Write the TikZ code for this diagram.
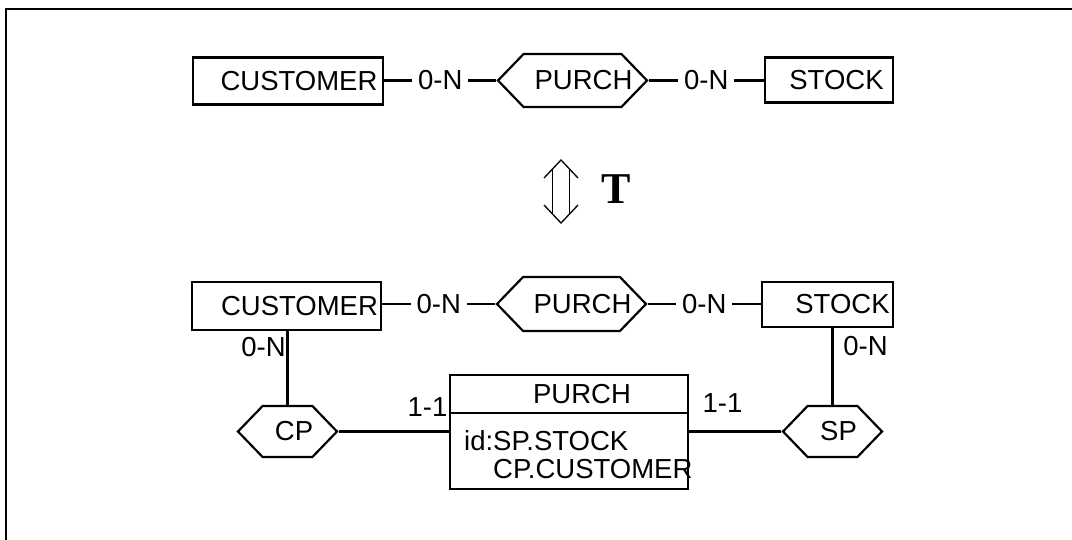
\documentclass[tikz,border=0pt]{standalone}
\usepackage{fontspec}
\setmainfont{Liberation Sans}
\newfontfamily\trfont{Liberation Serif}
\usetikzlibrary{shapes.symbols}

\tikzset{
  every node/.style={font=\fontsize{27.5}{28}\selectfont},
  ent/.style={draw, line width=2.2pt, inner sep=0pt, minimum height=47pt},
  rel/.style={draw, line width=2.2pt, inner sep=0pt, shape=signal,
    signal to=east and west, signal pointer angle=92},
  link/.style={line width=2.2pt},
  card/.style={fill=white, inner sep=0pt, minimum width=56pt, minimum height=30pt},
  lbl/.style={inner sep=0pt},
}
% centred text, nudged to the right, that does not widen its shape
\newcommand\nudged[2]{\makebox[0pt][c]{\hspace*{#1}#2}}

\begin{document}
\begin{tikzpicture}[x=1pt, y=-1pt]
\useasboundingbox (0,0) rectangle (1072,539);

% open frame (top and left edges)
\draw[line width=2pt] (6,545) -- (6,9) -- (1080,9);

% ---------- original schema ----------
\node[ent, minimum width=190pt] (cust1) at (288,81) {\nudged{22pt}{CUSTOMER}};
\node[rel, minimum width=149pt, minimum height=53pt] (purch1) at (572.5,80.5) {\nudged{22pt}{PURCH}};
\node[ent, minimum width=128pt, minimum height=45pt] (stock1) at (829,80) {\nudged{15pt}{STOCK}};

\draw[link] (cust1.east |- purch1.west) -- node[card] {0-N} (purch1.west);
\draw[link] (purch1.east) -- node[card] {0-N} (stock1.west |- purch1.east);

% ---------- transformation symbol ----------
\coordinate (tup) at (561,160);
\coordinate (tdn) at (561,223);
\draw[line width=1.3pt] (544,178) -- (tup) -- (578,178);
\draw[line width=1.3pt] (544,205) -- (tdn) -- (578,205);
\draw[line width=1.3pt] (552.5,169) -- (552.5,214);
\draw[line width=1.3pt] (569.5,169) -- (569.5,214);
\node[lbl, font=\trfont\bfseries\fontsize{44}{44}\selectfont] (tname) at (616,189.5) {T};

% ---------- transformed schema ----------
\node[ent, minimum width=189pt, minimum height=48pt] (cust2) at (286.5,306) {\nudged{26pt}{CUSTOMER}};
\node[rel, minimum width=149pt, minimum height=54pt] (purch2) at (571.5,304) {\nudged{22pt}{PURCH}};
\node[ent, minimum width=131pt, minimum height=45pt] (stock2) at (827.5,304.5) {\nudged{30pt}{STOCK}};

\draw[link] (cust2.east |- purch2.west) -- node[card] {0-N} (purch2.west);
\draw[link] (purch2.east) -- node[card] {0-N} (stock2.west |- purch2.east);

% relationship types CP and SP
\node[rel, minimum width=99pt, minimum height=51pt] (cp) at (287.5,431.5) {\nudged{13pt}{CP}};
\node[rel, minimum width=99pt, minimum height=51pt] (sp) at (832.5,431.5) {\nudged{12pt}{SP}};

% entity type PURCH with its identifier
\node[draw, line width=2.2pt, inner sep=0pt, minimum width=238pt, minimum height=114pt] (pent) at (569,432) {};
\draw[line width=2.2pt] (pent.west |- 0,413) -- (pent.east |- 0,413);
\node[lbl] (pname) at (582,394) {PURCH};
\node[lbl, anchor=base west, align=left, font=\fontsize{27.5}{28}\selectfont] (pid) at (464,478) {id:SP.STOCK\\\phantom{id:}CP.CUSTOMER};

\draw[link] (cust2.south -| cp.north) -- (cp.north);
\draw[link] (sp.north) -- (sp.north |- stock2.south);
\draw[link] (cp.east) -- (pent.west |- cp.east);
\draw[link] (pent.east |- sp.west) -- (sp.west);

% cardinalities
\node[lbl] (c1) at (263.5,347) {0-N};
\node[lbl] (c2) at (865.5,346) {0-N};
\node[lbl] (c3) at (427.5,407) {1-1};
\node[lbl] (c4) at (722.5,403) {1-1};
\end{tikzpicture}
\end{document}
